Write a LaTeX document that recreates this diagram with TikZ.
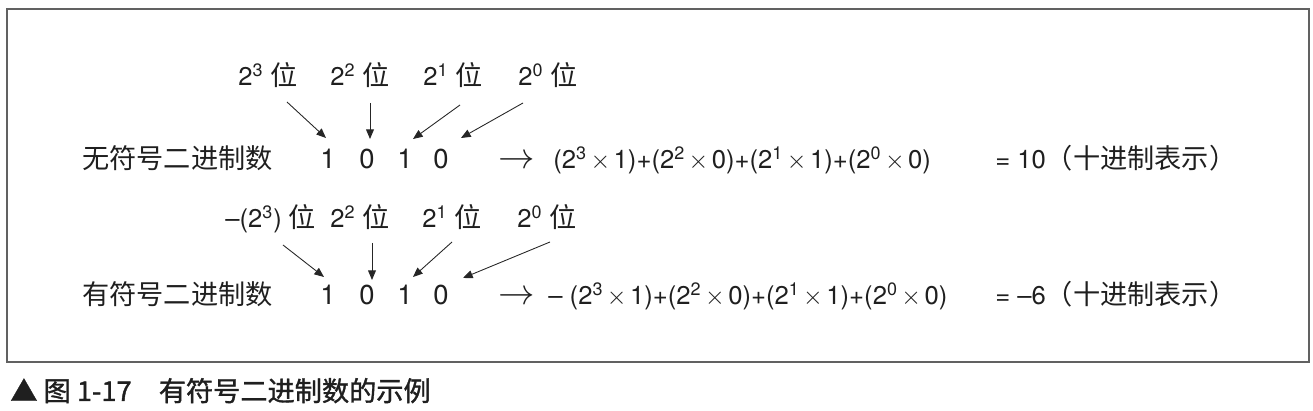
\documentclass[tikz,border=0pt]{standalone}
\usepackage{fontspec}
\setmainfont{TeX Gyre Heros}
\newfontfamily\cjk[Scale=1.06]{Noto Sans CJK SC}
\newfontfamily\cjkcap[Scale=1.06,FakeBold=1.2]{Noto Sans CJK SC}
\usetikzlibrary{arrows.meta}
\newcommand{\tm}{\kern2pt$\times$\kern2pt}

\begin{document}
\begin{tikzpicture}[x=0.02cm, y=-0.02cm, font=\fontsize{14.6}{17}\selectfont,
  txt/.style={anchor=base west, inner sep=0pt, text=black!88},
  bit/.style={anchor=base, inner sep=0pt, text=black!88, font=\fontsize{15.6}{18}\selectfont},
  ptr/.style={-{Triangle[length=5.5pt,width=4.5pt]}, line width=0.5pt, black!85}]
  % page and frame
  \useasboundingbox (0,0) rectangle (1313,411);
  \draw[line width=1.1pt, black!62] (7,9) rectangle (1309,362);

  % unsigned row
  \node[txt] (ua3) at (238,86) {2\textsuperscript{3} {\cjk 位}};
  \node[txt] (ua2) at (330,86) {2\textsuperscript{2} {\cjk 位}};
  \node[txt] (ua1) at (423,86) {2\textsuperscript{1} {\cjk 位}};
  \node[txt] (ua0) at (518,86) {2\textsuperscript{0} {\cjk 位}};

  \node[txt] (uname) at (82,169) {\cjk 无符号二进制数};
  \node[bit] (da3) at (328,169) {1};
  \node[bit] (da2) at (367,169) {0};
  \node[bit] (da1) at (405,169) {1};
  \node[bit] (da0) at (441,169) {0};
  \node[bit, font=\fontsize{21}{22}\selectfont] (uto) at (517,169) {$\rightarrow$};
  \node[txt] (usum) at (553,169)
    {(2\textsuperscript{3}\tm1)+(2\textsuperscript{2}\tm0)+(2\textsuperscript{1}\tm1)+(2\textsuperscript{0}\tm0)};
  \node[txt] (uval) at (995,169) {= 10{\cjk（十进制表示）}};

  \draw[ptr] ([shift={(49,16)}]ua3.base west) -- ([shift={(-2,-31)}]da3.base);
  \draw[ptr] ([shift={(40,17)}]ua2.base west) -- ([shift={(3,-30)}]da2.base);
  \draw[ptr] ([shift={(37,19)}]ua1.base west) -- ([shift={(8,-30)}]da1.base);
  \draw[ptr] ([shift={(5,17)}]ua0.base west) -- ([shift={(20,-31)}]da0.base);

  % signed row
  \node[txt] (sa3) at (225,228) {–(2\textsuperscript{3}) {\cjk 位}};
  \node[txt] (sa2) at (330,228) {2\textsuperscript{2} {\cjk 位}};
  \node[txt] (sa1) at (422,228) {2\textsuperscript{1} {\cjk 位}};
  \node[txt] (sa0) at (517,228) {2\textsuperscript{0} {\cjk 位}};

  \node[txt] (sname) at (82,305) {\cjk 有符号二进制数};
  \node[bit] (db3) at (328,305) {1};
  \node[bit] (db2) at (367,305) {0};
  \node[bit] (db1) at (405,305) {1};
  \node[bit] (db0) at (441,305) {0};
  \node[bit, font=\fontsize{21}{22}\selectfont] (sto) at (517,305) {$\rightarrow$};
  \node[txt] (ssum) at (548,305)
    {– (2\textsuperscript{3}\tm1)+(2\textsuperscript{2}\tm0)+(2\textsuperscript{1}\tm1)+(2\textsuperscript{0}\tm0)};
  \node[txt] (sval) at (995,305) {= –6{\cjk（十进制表示）}};

  \draw[ptr] ([shift={(58,17)}]sa3.base west) -- ([shift={(-4,-28)}]db3.base);
  \draw[ptr] ([shift={(42,15)}]sa2.base west) -- ([shift={(5,-25)}]db2.base);
  \draw[ptr] ([shift={(30,14)}]sa1.base west) -- ([shift={(8,-28)}]db1.base);
  \draw[ptr] ([shift={(33,14)}]sa0.base west) -- ([shift={(22,-27)}]db0.base);

  % caption
  \node[txt] (cap) at (10,401) {\cjkcap ▲ 图 1-17\quad 有符号二进制数的示例};
\end{tikzpicture}
\end{document}
